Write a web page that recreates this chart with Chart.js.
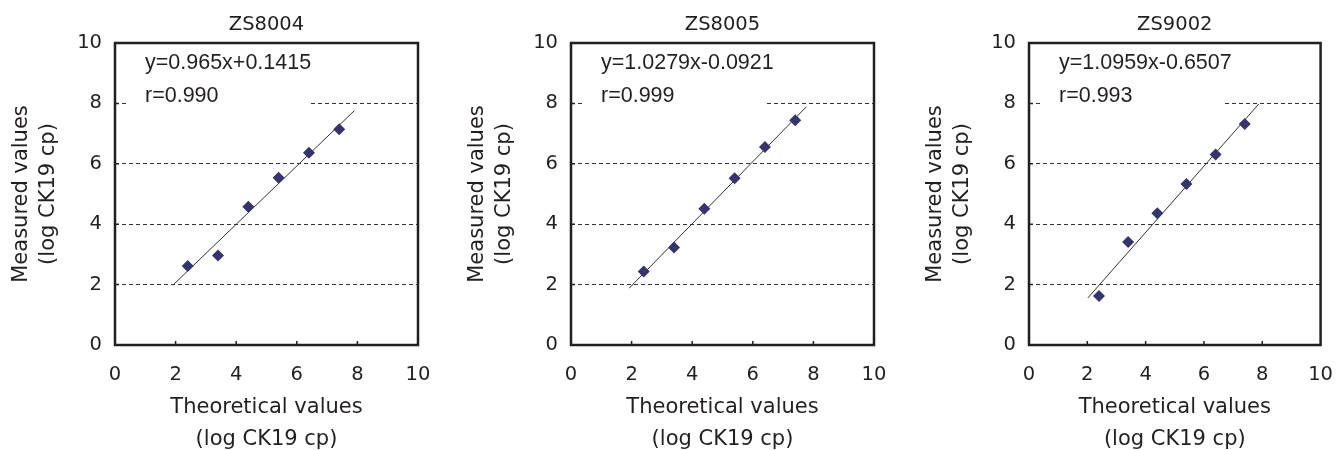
<!DOCTYPE html>
<html>
<head>
<meta charset="utf-8">
<script src="https://cdn.jsdelivr.net/npm/chart.js@4/dist/chart.umd.min.js"></script>
<style>
  html, body { margin: 0; padding: 0; background: #fff; overflow: hidden; }
  #wrap { position: relative; width: 1343px; height: 450px; }
  .panel { position: absolute; top: 0; height: 450px; }
</style>
</head>
<body>
<div id="wrap">
  <div class="panel" style="left:0px;width:443px"><canvas id="c1"></canvas></div>
  <div class="panel" style="left:456px;width:443px"><canvas id="c2"></canvas></div>
  <div class="panel" style="left:914px;width:429px"><canvas id="c3"></canvas></div>
</div>
<script>
// values
const panelTitles = ['ZS8004', 'ZS8005', 'ZS9002'];
const theoretical = [2.4, 3.4, 4.4, 5.4, 6.4, 7.4];
const measured8004 = [2.62, 2.96, 4.58, 5.54, 6.37, 7.14];
const measured8005 = [2.43, 3.23, 4.51, 5.52, 6.56, 7.44];
const measured9002 = [1.62, 3.41, 4.36, 5.33, 6.31, 7.32];

// regression line end points
const fitX8004 = [1.93, 7.90];
const fitY8004 = [2.00, 7.76];
const fitX8005 = [1.92, 7.77];
const fitY8005 = [1.88, 7.89];
const fitX9002 = [2.02, 7.88];
const fitY9002 = [1.56, 7.98];

const equations = ['y=0.965x+0.1415', 'y=1.0279x-0.0921', 'y=1.0959x-0.6507'];
const rValues = ['r=0.990', 'r=0.999', 'r=0.993'];
const axisTicks = [2, 4, 6, 8];

const FONT = "'DejaVu Sans', Verdana, sans-serif";
const EQ_FONT = "'Liberation Sans', Arial, sans-serif";
const INK = '#231f20';

// panel title, frame, inner tick marks and the equation box
const decorations = {
    id: 'decorations',
    beforeDatasetsDraw(chart, args, opts) {
        const ctx = chart.ctx;
        const a = chart.chartArea;
        ctx.save();
        // white box behind the text hides part of the gridline
        ctx.fillStyle = '#fff';
        ctx.fillRect(a.left + 14, a.top + 2, 181, 65);
        ctx.fillStyle = INK;
        ctx.font = '21.5px ' + EQ_FONT;
        ctx.textAlign = 'left';
        ctx.textBaseline = 'middle';
        ctx.fillText(opts.eq, a.left + 30, a.top + 20);
        ctx.fillText(opts.r, a.left + 30, a.top + 53);
        // title centred over the plot area
        ctx.font = '19.5px ' + FONT;
        ctx.textAlign = 'center';
        ctx.fillText(opts.title, (a.left + a.right) / 2, 25);
        ctx.restore();
    },
    afterDraw(chart) {
        const ctx = chart.ctx;
        const a = chart.chartArea;
        const xs = chart.scales.x, ys = chart.scales.y;
        ctx.save();
        ctx.strokeStyle = INK;
        ctx.lineWidth = 1.5;
        ctx.beginPath();
        axisTicks.forEach(v => {
            const px = xs.getPixelForValue(v);
            ctx.moveTo(px, a.bottom);
            ctx.lineTo(px, a.bottom - 4);
            const py = ys.getPixelForValue(v);
            ctx.moveTo(a.left, py);
            ctx.lineTo(a.left + 4, py);
        });
        ctx.stroke();
        ctx.lineWidth = 2.5;
        ctx.strokeRect(a.left, a.top, a.right - a.left, a.bottom - a.top);
        ctx.restore();
    }
};

function makeChart(id, idx, measured, fitX, fitY, rightPad) {
    new Chart(document.getElementById(id), {
        type: 'scatter',
        data: {
            datasets: [{
                label: panelTitles[idx],
                data: theoretical.map((x, i) => ({x: x, y: measured[i]})),
                pointStyle: 'rectRot',
                pointRadius: 6,
                pointHoverRadius: 6,
                backgroundColor: '#35356e',
                borderColor: '#35356e',
                borderWidth: 0,
                order: 1
            }, {
                type: 'line',
                label: 'fit',
                data: fitX.map((x, i) => ({x: x, y: fitY[i]})),
                borderColor: '#333',
                borderWidth: 1,
                pointRadius: 0,
                fill: false,
                order: 2
            }]
        },
        options: {
            responsive: false,
            animation: false,
            layout: { padding: { left: 0, right: rightPad, top: 43, bottom: 0 } },
            scales: {
                x: {
                    type: 'linear',
                    min: 0,
                    max: 10,
                    afterFit: s => { s.height = 105; },
                    grid: { display: false },
                    border: { display: false },
                    ticks: { stepSize: 2, padding: 10, color: INK, font: { family: FONT, size: 19.5 } },
                    title: {
                        display: true,
                        text: ['Theoretical values', '(log CK19 cp)'],
                        color: INK,
                        font: { family: FONT, size: 21, lineHeight: 32 / 21 },
                        padding: { top: 0, bottom: -6 }
                    }
                },
                y: {
                    min: 0,
                    max: 10,
                    afterFit: s => { s.width = 115; },
                    grid: {
                        drawTicks: false,
                        color: c => (c.tick.value > 0 && c.tick.value < 10) ? '#333' : 'rgba(0,0,0,0)',
                        lineWidth: 1
                    },
                    border: { display: false, dash: [4, 3] },
                    ticks: { stepSize: 2, padding: 13, color: INK, font: { family: FONT, size: 19.5 } },
                    title: {
                        display: true,
                        text: ['Measured values', '(log CK19 cp)'],
                        color: INK,
                        font: { family: FONT, size: 21, lineHeight: 27 / 21 },
                        padding: { top: 8.5, bottom: 0 }
                    }
                }
            },
            plugins: {
                legend: { display: false },
                tooltip: { enabled: false },
                title: { display: false },
                decorations: { title: panelTitles[idx], eq: equations[idx], r: rValues[idx] }
            }
        },
        plugins: [decorations]
    });
}

// canvas sizes fixed so the three plot areas line up with the figure
[['c1', 443], ['c2', 443], ['c3', 429]].forEach(([id, w]) => {
    const c = document.getElementById(id);
    c.width = w;
    c.height = 450;
});

makeChart('c1', 0, measured8004, fitX8004, fitY8004, 25);
makeChart('c2', 1, measured8005, fitX8005, fitY8005, 25);
makeChart('c3', 2, measured9002, fitX9002, fitY9002, 11);
</script>
</body>
</html>
